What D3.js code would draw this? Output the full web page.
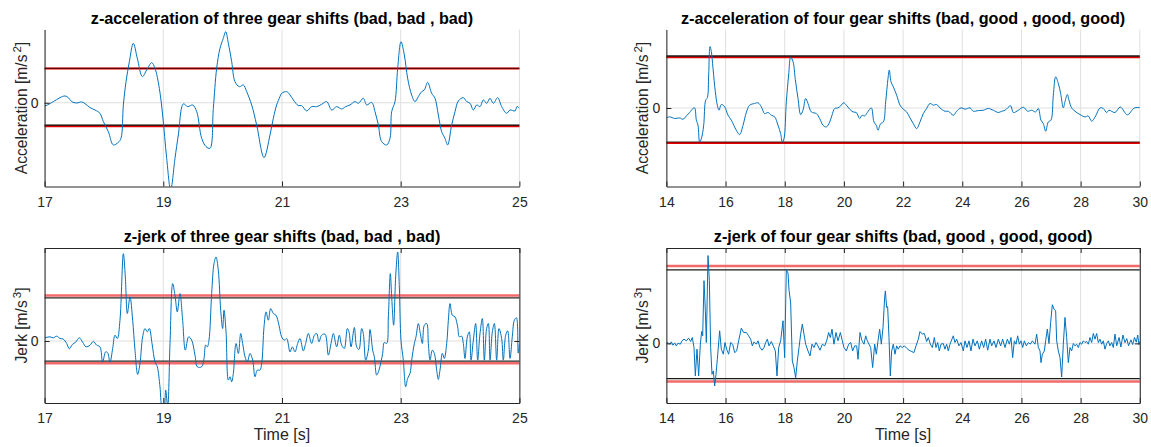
<!DOCTYPE html>
<html>
<head>
<meta charset="utf-8">
<script src="https://cdn.jsdelivr.net/npm/d3@7"></script>
<style>
  body { margin: 0; background: #fff; }
  svg { display: block; font-family: "Liberation Sans", Arial, Helvetica, sans-serif; }
</style>
</head>
<body>
<svg id="chart" width="1151" height="447"></svg>
<script>
// ---- data: [time s, value] ----
var accThree = [[17.0,-0.3],[17.024,-0.27],[17.147,0.11],[17.259,0.49],[17.344,0.65],[17.400,0.49],[17.456,0.11],[17.540,-0.02],[17.625,0.08],[17.681,-0.08],[17.765,-0.46],[17.849,-0.69],[17.933,-1.01],[17.990,-1.80],[18.074,-2.76],[18.158,-4.03],[18.242,-3.78],[18.287,-3.40],[18.327,-0.21],[18.372,2.01],[18.428,3.93],[18.495,5.68],[18.562,4.25],[18.647,2.50],[18.720,3.13],[18.804,3.83],[18.860,3.29],[18.933,1.38],[18.989,-1.17],[19.057,-5.31],[19.124,-8.3],[19.197,-5.31],[19.253,-3.08],[19.338,-0.11],[19.411,-0.37],[19.495,-0.21],[19.563,-0.85],[19.647,-3.40],[19.720,-4.19],[19.787,-4.35],[19.843,-0.53],[19.899,3.29],[19.955,5.20],[20.011,6.16],[20.051,6.79],[20.096,5.68],[20.152,3.93],[20.208,2.02],[20.281,1.54],[20.349,1.70],[20.405,1.06],[20.489,-0.21],[20.573,-2.12],[20.697,-5.24],[20.798,-3.08],[20.854,-1.48],[20.910,-0.21],[20.966,0.59],[20.994,0.90],[21.079,1.06],[21.135,0.75],[21.191,0.27],[21.275,-0.27],[21.331,-0.27],[21.416,-0.78],[21.500,-0.37],[21.584,-0.37],[21.668,-0.15],[21.753,0.11],[21.837,-0.69],[21.921,-0.37],[22.005,-0.59],[22.073,-0.37],[22.146,-0.21],[22.230,0.11],[22.286,-0.05],[22.370,0.43],[22.427,-0.21],[22.511,0.04],[22.567,-0.85],[22.623,-2.12],[22.679,-3.71],[22.764,-4.03],[22.820,-3.39],[22.848,-0.85],[22.904,0.11],[22.949,3.29],[23.005,5.84],[23.061,4.57],[23.117,2.34],[23.185,0.74],[23.241,0.11],[23.297,0.59],[23.353,1.06],[23.398,1.22],[23.454,1.95],[23.522,0.90],[23.578,0.43],[23.634,-1.17],[23.690,-2.76],[23.746,-3.40],[23.791,-4.03],[23.859,-2.12],[23.915,-0.85],[23.971,0.17],[24.055,0.49],[24.112,0.11],[24.168,-0.05],[24.224,-0.69],[24.280,-0.21],[24.336,-0.37],[24.392,0.27],[24.448,-0.05],[24.505,0.43],[24.561,-0.05],[24.634,0.49],[24.701,-0.37],[24.785,-1.01],[24.842,-0.69],[24.926,-0.78],[24.96,-0.35],[25.0,-0.55]];

var accFour = [[14.0,-1.01],[14.110,-0.90],[14.279,-1.07],[14.448,-1.01],[14.561,-1.15],[14.674,-0.81],[14.786,-0.46],[14.899,-0.05],[14.955,0.01],[15.012,-1.24],[15.068,-1.76],[15.124,-3.47],[15.181,-3.13],[15.260,-1.76],[15.327,0.80],[15.384,1.04],[15.429,3.36],[15.473,6.26],[15.519,5.75],[15.575,4.04],[15.654,1.65],[15.721,0.29],[15.778,-0.22],[15.856,0.36],[15.969,0.12],[16.082,-0.73],[16.194,-1.24],[16.363,-2.27],[16.476,-2.71],[16.589,-1.76],[16.701,-0.46],[16.814,0.29],[16.983,0.46],[17.096,0.53],[17.208,0.12],[17.321,-0.57],[17.434,-0.46],[17.546,-0.73],[17.659,-0.90],[17.772,-1.76],[17.862,-2.61],[17.918,-3.47],[17.974,-3.13],[18.053,0.63],[18.132,3.36],[18.200,5.17],[18.279,4.73],[18.358,2.88],[18.448,0.97],[18.538,-0.67],[18.617,-0.22],[18.707,0.97],[18.786,0.46],[18.899,-0.40],[19.068,-0.57],[19.180,-1.07],[19.293,-1.76],[19.405,-1.93],[19.518,-1.43],[19.597,-0.74],[19.687,-0.05],[19.800,0.01],[19.890,0.22],[19.992,0.53],[20.082,0.29],[20.194,-0.12],[20.307,-0.40],[20.419,-0.46],[20.532,-1.07],[20.611,-0.74],[20.701,-0.81],[20.791,-0.46],[20.925,0.01],[21.016,-1.43],[21.095,-1.76],[21.152,-2.27],[21.242,-1.59],[21.332,-1.43],[21.411,0.63],[21.490,3.02],[21.534,3.87],[21.591,2.67],[21.669,2.16],[21.782,1.31],[21.895,0.29],[22.007,-0.12],[22.120,-0.40],[22.233,-1.01],[22.345,-1.59],[22.458,-2.10],[22.571,-1.42],[22.683,-0.57],[22.796,-0.05],[22.909,0.46],[23.021,0.29],[23.134,0.35],[23.247,0.01],[23.416,-0.33],[23.528,-0.33],[23.697,-0.74],[23.810,-0.33],[23.956,0.01],[24.092,-0.12],[24.261,0.01],[24.373,-0.33],[24.542,-0.26],[24.711,-0.23],[24.880,-0.05],[25.049,-0.23],[25.218,-0.46],[25.331,-0.33],[25.443,-0.23],[25.635,0.22],[25.725,-0.46],[25.894,-0.23],[26.063,0.08],[26.209,-0.33],[26.345,-0.23],[26.480,-0.40],[26.570,-0.05],[26.660,-1.24],[26.739,-1.59],[26.818,-2.37],[26.908,-1.42],[26.998,-1.24],[27.077,1.30],[27.156,3.18],[27.246,2.50],[27.325,1.48],[27.415,0.01],[27.471,0.63],[27.550,1.37],[27.606,0.80],[27.696,0.01],[27.809,-0.33],[27.978,-0.67],[28.147,-0.91],[28.259,-0.81],[28.372,-1.35],[28.507,-0.81],[28.654,0.01],[28.766,-0.05],[28.879,-0.46],[28.958,-0.23],[29.161,-0.46],[29.34,0.1],[29.58,-0.7],[29.81,0.0],[30.0,0.05]];

var jerkThree = [[17.0,1.0],[17.024,1.13],[17.091,1.34],[17.147,1.02],[17.203,1.56],[17.259,0.81],[17.316,0.59],[17.372,-0.80],[17.417,-2.52],[17.467,-1.13],[17.523,-0.38],[17.585,1.02],[17.641,-0.38],[17.698,-1.88],[17.765,-1.34],[17.821,-0.16],[17.877,-1.34],[17.933,-1.88],[17.978,-6.82],[18.029,-3.49],[18.063,-3.81],[18.102,-6.82],[18.147,-2.41],[18.186,1.88],[18.226,0.81],[18.270,6.71],[18.327,28.17],[18.360,20.66],[18.394,8.86],[18.439,14.22],[18.484,6.71],[18.523,-2.95],[18.568,-10.79],[18.607,-7.24],[18.652,1.34],[18.692,4.02],[18.731,2.95],[18.765,4.02],[18.810,-0.80],[18.860,-6.71],[18.899,-8.32],[18.944,-14.76],[18.978,-21],[19.012,-21.5],[19.040,-15.83],[19.074,-21],[19.113,-0.80],[19.158,18.51],[19.197,14.76],[19.236,9.39],[19.281,15.29],[19.326,6.71],[19.371,-2.95],[19.427,1.34],[19.478,0.27],[19.534,-4.56],[19.573,-8.32],[19.646,-8.32],[19.686,-5.63],[19.714,-1.34],[19.742,-1.88],[19.770,0.27],[19.815,15.29],[19.854,24.95],[19.888,27.09],[19.927,22.80],[19.967,9.93],[20.000,4.02],[20.023,9.93],[20.057,2.95],[20.096,-12.61],[20.124,-11.54],[20.152,-13.15],[20.180,-10.46],[20.225,-0.80],[20.265,-4.02],[20.304,2.41],[20.337,-0.80],[20.377,-5.10],[20.416,-6.71],[20.461,-4.02],[20.506,-6.17],[20.545,-11.54],[20.584,-9.39],[20.629,-9.39],[20.658,-7.24],[20.697,4.56],[20.731,9.39],[20.770,6.71],[20.809,10.46],[20.854,8.86],[20.899,8.32],[20.949,5.10],[20.994,1.34],[21.039,0.27],[21.079,0.80],[21.135,-3.49],[21.174,-1.88],[21.219,-3.49],[21.264,-0.80],[21.303,0.80],[21.359,-3.17],[21.399,-0.80],[21.444,2.41],[21.500,-0.80],[21.545,1.88],[21.584,2.41],[21.623,-0.27],[21.668,1.88],[21.725,2.20],[21.781,-4.56],[21.826,-0.80],[21.865,2.41],[21.921,-1.88],[21.966,1.88],[22.005,-1.34],[22.050,-2.41],[22.101,4.02],[22.129,2.95],[22.163,-1.88],[22.219,4.35],[22.258,-1.88],[22.297,-2.74],[22.342,4.02],[22.370,2.41],[22.410,-6.17],[22.455,-2.95],[22.483,3.70],[22.528,-2.95],[22.556,-5.10],[22.595,-11.00],[22.634,-9.39],[22.668,-6.71],[22.696,-4.02],[22.724,-0.48],[22.764,-0.80],[22.792,7.78],[22.825,21.73],[22.848,14.22],[22.881,5.10],[22.915,20.66],[22.949,28.71],[22.977,17.44],[23.005,0.27],[23.044,-6.17],[23.084,-14.76],[23.117,-12.07],[23.157,-10.46],[23.185,-6.17],[23.230,-0.80],[23.258,1.34],[23.297,5.63],[23.331,2.41],[23.365,-0.80],[23.398,5.10],[23.438,5.63],[23.466,-0.80],[23.494,-6.17],[23.533,-2.95],[23.567,-4.02],[23.606,-9.39],[23.634,-12.40],[23.662,-9.39],[23.702,-4.02],[23.735,-5.63],[23.775,-0.80],[23.803,6.71],[23.831,12.07],[23.870,8.32],[23.915,7.78],[23.960,4.56],[23.988,1.34],[24.027,1.56],[24.055,-0.80],[24.083,-5.63],[24.123,1.34],[24.156,2.95],[24.185,-6.17],[24.224,0.27],[24.263,5.63],[24.297,-6.17],[24.336,2.41],[24.376,7.24],[24.409,-6.17],[24.448,4.02],[24.477,5.63],[24.505,-6.17],[24.544,2.95],[24.578,5.63],[24.617,-6.17],[24.656,4.02],[24.701,0.80],[24.729,-6.17],[24.769,1.88],[24.802,3.27],[24.842,-5.63],[24.881,1.56],[24.915,6.71],[24.95,7.5],[24.98,-3.9],[25.0,-1.0]];

var jerkFour = [[14.000,-0.06],[14.054,0.36],[14.110,-0.34],[14.167,0.64],[14.223,-0.76],[14.279,0.22],[14.336,-1.04],[14.392,0.08],[14.471,-0.34],[14.527,1.07],[14.595,1.77],[14.674,1.07],[14.752,2.19],[14.820,0.78],[14.876,2.47],[14.933,-1.74],[14.978,-13.66],[15.034,-2.44],[15.090,-13.66],[15.147,-0.34],[15.192,4.99],[15.226,3.17],[15.271,26.30],[15.316,13.69],[15.350,0.36],[15.406,36.83],[15.451,26.30],[15.496,-1.74],[15.541,-12.96],[15.586,-11.55],[15.631,-17.86],[15.676,-12.96],[15.721,-6.67],[15.800,5.27],[15.856,-2.44],[15.924,-4.54],[15.980,0.36],[16.036,-2.44],[16.104,-4.54],[16.172,0.36],[16.239,-0.34],[16.307,-3.87],[16.375,-3.17],[16.442,1.07],[16.532,6.39],[16.611,4.57],[16.701,4.57],[16.780,3.17],[16.848,1.77],[16.904,-1.04],[16.961,0.64],[17.039,-0.34],[17.096,1.07],[17.164,-1.74],[17.231,-2.86],[17.299,-1.74],[17.355,0.36],[17.412,1.77],[17.468,-1.04],[17.547,0.78],[17.626,-1.46],[17.682,-3.17],[17.738,-13.66],[17.795,-1.74],[17.862,1.07],[17.941,9.48],[17.997,-5.97],[18.053,30.90],[18.110,29.50],[18.144,22.49],[18.200,16.88],[18.256,-7.38],[18.313,-10.18],[18.369,-14.39],[18.425,-7.38],[18.482,-1.74],[18.538,3.87],[18.594,8.08],[18.650,3.87],[18.707,-0.34],[18.786,-3.17],[18.853,-5.27],[18.921,-0.34],[18.988,-1.74],[19.056,0.36],[19.123,-1.04],[19.191,-2.86],[19.270,-0.34],[19.349,-1.04],[19.416,1.07],[19.484,4.57],[19.540,2.47],[19.597,5.97],[19.664,-0.34],[19.732,4.57],[19.800,1.07],[19.879,4.57],[19.946,1.07],[20.002,-1.74],[20.081,-3.17],[20.160,-0.34],[20.228,0.36],[20.295,-3.17],[20.363,-1.04],[20.431,-1.04],[20.476,-6.67],[20.543,4.57],[20.611,1.07],[20.679,-0.34],[20.735,3.17],[20.791,1.07],[20.848,-0.34],[20.904,-1.74],[20.971,-10.15],[21.039,-0.34],[21.095,-4.54],[21.152,1.07],[21.208,5.97],[21.264,-0.34],[21.321,6.67],[21.377,19.29],[21.40,22.0],[21.444,15.07],[21.478,15.4],[21.523,2.47],[21.568,-13.66],[21.613,-3.17],[21.669,-0.34],[21.726,-4.54],[21.782,-1.04],[21.838,-2.44],[21.895,-1.04],[21.974,-1.74],[22.041,-1.04],[22.120,-2.02],[22.199,-2.86],[22.289,-3.42],[22.368,-3.84],[22.436,-1.04],[22.515,1.77],[22.571,4.99],[22.650,3.87],[22.718,4.15],[22.796,0.78],[22.852,2.47],[22.920,-0.34],[22.988,-1.74],[23.055,2.47],[23.111,-1.74],[23.168,0.36],[23.224,-3.17],[23.280,-0.34],[23.359,-0.06],[23.415,-2.44],[23.472,-0.34],[23.528,-3.17],[23.584,-0.34],[23.697,3.17],[23.753,0.36],[23.810,1.77],[23.889,-1.04],[23.956,0.36],[24.035,-3.17],[24.092,1.07],[24.159,-1.74],[24.227,1.07],[24.294,-3.17],[24.362,1.77],[24.430,-1.04],[24.509,1.07],[24.576,-2.44],[24.655,1.07],[24.723,-1.74],[24.790,1.77],[24.858,-2.86],[24.937,1.77],[24.993,-1.04],[25.072,1.07],[25.140,-1.74],[25.219,1.77],[25.298,-1.04],[25.365,1.77],[25.444,-1.74],[25.523,1.77],[25.591,-0.34],[25.647,2.47],[25.703,-5.97],[25.760,1.07],[25.816,-0.34],[25.872,3.17],[25.929,-0.34],[25.985,1.07],[26.041,-1.74],[26.098,1.07],[26.165,-1.04],[26.233,0.36],[26.301,-0.34],[26.368,1.07],[26.458,-0.34],[26.514,3.87],[26.571,-1.74],[26.627,-3.17],[26.661,-8.08],[26.706,-4.54],[26.773,-3.17],[26.818,1.07],[26.875,5.97],[26.931,-0.06],[26.987,8.79],[27.044,16.21],[27.100,14.39],[27.156,13.69],[27.190,1.07],[27.246,-3.17],[27.303,-5.97],[27.359,-14.1],[27.415,-0.34],[27.471,10.88],[27.528,2.47],[27.584,-8.08],[27.640,-1.74],[27.697,-3.17],[27.753,-0.06],[27.809,-1.04],[27.866,-0.34],[27.922,-1.74],[27.978,0.36],[28.035,-0.34],[28.091,1.07],[28.147,0.36],[28.204,0.78],[28.260,-0.34],[28.316,2.47],[28.373,0.36],[28.429,4.15],[28.485,1.77],[28.542,4.15],[28.598,0.36],[28.654,1.77],[28.711,-0.34],[28.767,1.07],[28.823,-2.44],[28.880,-0.06],[28.936,1.07],[28.992,-1.04],[29.049,0.36],[29.105,-1.74],[29.161,3.87],[29.22,-1.0],[29.30,2.5],[29.36,-1.5],[29.43,3.5],[29.50,0.3],[29.56,2.0],[29.62,-1.0],[29.70,1.5],[29.76,-0.5],[29.82,2.5],[29.88,0.5],[29.93,3.5],[29.97,-0.5],[30.0,0.8]];

// threshold levels [upper, lower]
var accThreeBlack = [3.29, -2.14], accThreeRed = [3.27, -2.25];
var accFourBlack = [5.30, -3.46], accFourRed = [5.16, -3.57];
var jerkThreeBlack = [13.9, -6.5], jerkThreeRed = [14.65, -7.2];
var jerkFourBlack = [30.8, -14.8], jerkFourRed = [32.5, -16.0];

// axis ticks
var ticksThree = [17, 19, 21, 23, 25];
var ticksFour = [14, 16, 18, 20, 22, 24, 26, 28, 30];

var svg = d3.select('#chart');
var axisColor = '#262626';

var panels = [
  {id: 'tl', title: 'z-acceleration of three gear shifts (bad, bad , bad)', data: accThree,
   xDomain: [17, 25], yDomain: [-8, 7], xTicks: ticksThree, black: accThreeBlack, red: accThreeRed,
   left: 44.6, right: 519.4, top: 29.5, bottom: 186.5, box: false, yLabel: 'Acceleration', pow: '2',
   labelX: 27, redColor: '#e00000', redWidth: 2, blackColor: '#000', blackOpacity: [0.55, 1], xLabel: false},
  {id: 'tr', title: 'z-acceleration of four gear shifts (bad, good , good, good)', data: accFour,
   xDomain: [14, 30], yDomain: [-8, 8], xTicks: ticksFour, black: accFourBlack, red: accFourRed,
   left: 666.4, right: 1139.8, top: 29.5, bottom: 186.5, box: false, yLabel: 'Acceleration', pow: '2',
   labelX: 648, redColor: '#e00000', redWidth: 2, blackColor: '#000', blackOpacity: [0.9, 0.55], xLabel: false},
  {id: 'bl', title: 'z-jerk of three gear shifts (bad, bad , bad)', data: jerkThree,
   xDomain: [17, 25], yDomain: [-20, 30], xTicks: ticksThree, black: jerkThreeBlack, red: jerkThreeRed,
   left: 44.6, right: 519.4, top: 248, bottom: 403, box: true, yLabel: 'Jerk', pow: '3',
   labelX: 27, redColor: '#f26a6a', redWidth: 2.5, blackColor: '#000', blackOpacity: [0.85, 0.85], xLabel: true},
  {id: 'br', title: 'z-jerk of four gear shifts (bad, good , good, good)', data: jerkFour,
   xDomain: [14, 30], yDomain: [-25, 40], xTicks: ticksFour, black: jerkFourBlack, red: jerkFourRed,
   left: 666.4, right: 1139.8, top: 248, bottom: 403, box: true, yLabel: 'Jerk', pow: '3',
   labelX: 648, redColor: '#f26a6a', redWidth: 2.5, blackColor: '#000', blackOpacity: [0.9, 0.9], xLabel: true}
];

panels.forEach(drawPanel);

function styleAxis(g) {
  g.attr('font-size', null).attr('font-family', null);
  g.select('.domain').attr('stroke', axisColor).attr('stroke-width', 1);
  g.selectAll('.tick line').attr('stroke', axisColor);
  g.selectAll('.tick text').attr('fill', axisColor).style('font-size', '14px');
}

function drawPanel(p) {
  var x = d3.scaleLinear().domain(p.xDomain).range([p.left, p.right]);
  var y = d3.scaleLinear().domain(p.yDomain).range([p.bottom, p.top]);
  var g = svg.append('g').attr('class', 'panel-' + p.id);

  svg.append('clipPath').attr('id', 'clip-' + p.id)
    .append('rect')
    .attr('x', p.left).attr('y', p.top)
    .attr('width', p.right - p.left).attr('height', p.bottom - p.top);

  // grid: vertical at x ticks, horizontal only at 0
  g.selectAll('.vgrid').data(p.xTicks).enter().append('line')
    .attr('x1', d => x(d)).attr('x2', d => x(d))
    .attr('y1', p.top).attr('y2', p.bottom)
    .attr('stroke', '#dfdfdf').attr('stroke-width', 1);
  g.append('line')
    .attr('x1', p.left).attr('x2', p.right)
    .attr('y1', y(0)).attr('y2', y(0))
    .attr('stroke', '#dfdfdf').attr('stroke-width', 1);

  // threshold lines, red first, black drawn over it
  g.selectAll('.thr-red').data(p.red).enter().append('line')
    .attr('x1', p.left).attr('x2', p.right)
    .attr('y1', d => y(d)).attr('y2', d => y(d))
    .attr('stroke', p.redColor).attr('stroke-width', p.redWidth);
  g.selectAll('.thr-black').data(p.black).enter().append('line')
    .attr('x1', p.left).attr('x2', p.right)
    .attr('y1', d => y(d)).attr('y2', d => y(d))
    .attr('stroke', p.blackColor)
    .attr('stroke-opacity', (d, i) => p.blackOpacity[i])
    .attr('stroke-width', 1.3);

  // signal
  var line = d3.line()
    .x(d => x(d[0]))
    .y(d => y(d[1]))
    .curve(p.id === 'br' ? d3.curveLinear : d3.curveCatmullRom.alpha(0.5));
  g.append('path')
    .datum(p.data)
    .attr('clip-path', 'url(#clip-' + p.id + ')')
    .attr('fill', 'none')
    .attr('stroke', '#0072bd')
    .attr('stroke-width', 1)
    .attr('stroke-linejoin', 'round')
    .attr('d', line);

  // axes (ticks point inwards like matlab)
  var xAxis = g.append('g')
    .attr('transform', 'translate(0,' + p.bottom + ')')
    .call(d3.axisBottom(x).tickValues(p.xTicks).tickFormat(d3.format('d'))
      .tickSizeInner(-5).tickSizeOuter(0).tickPadding(10.5));
  styleAxis(xAxis);

  var yAxis = g.append('g')
    .attr('transform', 'translate(' + p.left + ',0)')
    .call(d3.axisLeft(y).tickValues([0]).tickFormat(d3.format('d'))
      .tickSizeInner(-5).tickSizeOuter(0).tickPadding(6));
  styleAxis(yAxis);

  if (p.box) {
    var topAxis = g.append('g')
      .attr('transform', 'translate(0,' + p.top + ')')
      .call(d3.axisTop(x).tickValues(p.xTicks).tickFormat('')
        .tickSizeInner(-5).tickSizeOuter(0));
    styleAxis(topAxis);
    var rightAxis = g.append('g')
      .attr('transform', 'translate(' + p.right + ',0)')
      .call(d3.axisRight(y).tickValues([0]).tickFormat('')
        .tickSizeInner(-5).tickSizeOuter(0));
    styleAxis(rightAxis);
  }

  // title
  g.append('text')
    .attr('x', (p.left + p.right) / 2)
    .attr('y', p.top - 6)
    .attr('text-anchor', 'middle')
    .attr('font-weight', 'bold')
    .attr('font-size', '16.2px')
    .attr('fill', '#000')
    .text(p.title);

  // y label with superscript
  var lab = g.append('text')
    .attr('transform', 'translate(' + p.labelX + ',' + ((p.top + p.bottom) / 2) + ') rotate(-90)')
    .attr('text-anchor', 'middle')
    .attr('font-size', '15.6px')
    .attr('fill', axisColor);
  lab.append('tspan').text(p.yLabel + ' [m/s');
  lab.append('tspan').attr('dx', 2).attr('dy', -6).attr('font-size', '11.5px').text(p.pow);
  lab.append('tspan').attr('dy', 6).text(']');

  if (p.xLabel) {
    g.append('text')
      .attr('x', (p.left + p.right) / 2)
      .attr('y', 440)
      .attr('text-anchor', 'middle')
      .attr('font-size', '16px')
      .attr('fill', axisColor)
      .text('Time [s]');
  }
}
</script>
</body>
</html>
